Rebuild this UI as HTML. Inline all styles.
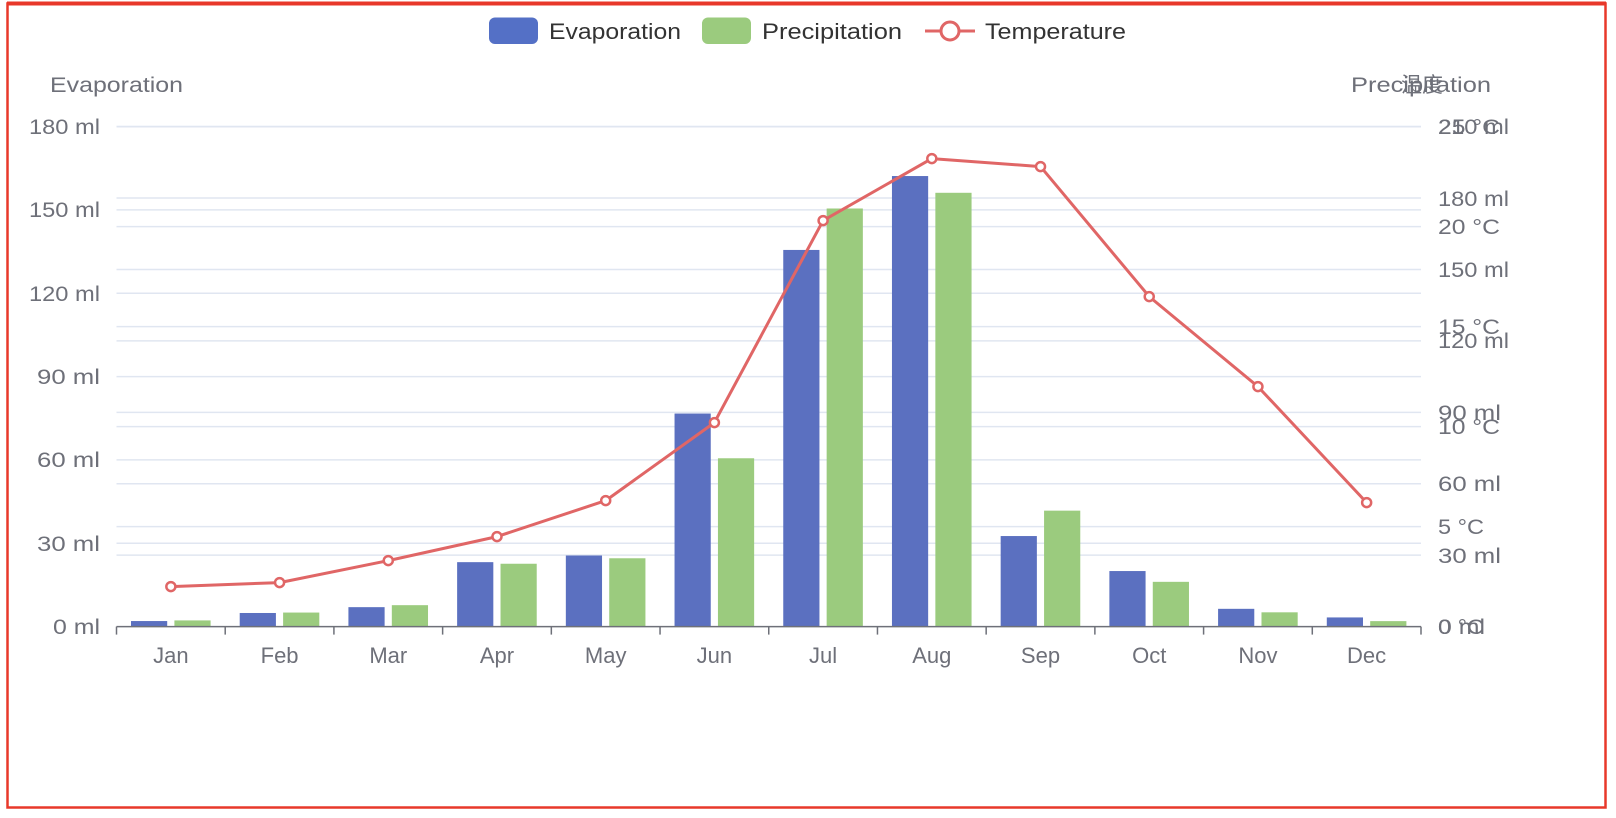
<!DOCTYPE html>
<html><head><meta charset="utf-8"><style>
html,body{margin:0;padding:0;background:#fff;}
svg{display:block;}
text{font-family:"Liberation Sans","Noto Sans CJK SC",sans-serif;}
</style></head><body>
<svg id="c" width="1616" height="818" viewBox="0 0 1616 818" xmlns="http://www.w3.org/2000/svg">
<rect x="0" y="0" width="1616" height="818" fill="#fff"/>
<rect x="7.5" y="3.5" width="1598" height="804" fill="none" stroke="#E8382A" stroke-width="2.5"/>
<line x1="7" y1="3.5" x2="1606" y2="3.5" stroke="#E8382A" stroke-width="4"/>
<g id="grid"></g>
<g id="bars"></g>
<line x1="116.5" y1="626.6" x2="1421" y2="626.6" stroke="#6E7079" stroke-width="1.5"/>
<g id="ticks"></g>
<g id="line"></g>
<!-- legend -->
<rect x="489" y="17.5" width="49" height="26.5" rx="6" fill="#5470C6"/>
<text x="549" y="39" font-size="22" fill="#333" textLength="132" lengthAdjust="spacingAndGlyphs">Evaporation</text>
<rect x="702" y="17.5" width="49" height="26.5" rx="6" fill="#9BCB7E"/>
<text x="762" y="39" font-size="22" fill="#333" textLength="140" lengthAdjust="spacingAndGlyphs">Precipitation</text>
<line x1="925" y1="31" x2="975" y2="31" stroke="#E06666" stroke-width="3"/>
<circle cx="950" cy="31" r="9" fill="#fff" stroke="#E06666" stroke-width="3"/>
<text x="985" y="39" font-size="22" fill="#333" textLength="141" lengthAdjust="spacingAndGlyphs">Temperature</text>
<!-- axis names -->
<g font-size="21" fill="#6E7079">
<text x="50" y="92" textLength="133" lengthAdjust="spacingAndGlyphs">Evaporation</text>
<text x="1491" y="92" text-anchor="end" textLength="140" lengthAdjust="spacingAndGlyphs">Precipitation</text>
<text x="1422" y="92" text-anchor="middle">温度</text>
</g>
<!-- left labels -->
<g font-size="21" fill="#6E7079" text-anchor="end">
<text x="100" y="634" textLength="47" lengthAdjust="spacingAndGlyphs">0 ml</text>
<text x="100" y="551" textLength="63" lengthAdjust="spacingAndGlyphs">30 ml</text>
<text x="100" y="467" textLength="63" lengthAdjust="spacingAndGlyphs">60 ml</text>
<text x="100" y="384" textLength="63" lengthAdjust="spacingAndGlyphs">90 ml</text>
<text x="100" y="301" textLength="71" lengthAdjust="spacingAndGlyphs">120 ml</text>
<text x="100" y="217" textLength="71" lengthAdjust="spacingAndGlyphs">150 ml</text>
<text x="100" y="134" textLength="71" lengthAdjust="spacingAndGlyphs">180 ml</text>
</g>
<!-- right labels -->
<g font-size="21" fill="#6E7079">
<text x="1438" y="634" textLength="47" lengthAdjust="spacingAndGlyphs">0 ml</text>
<text x="1438" y="563" textLength="63" lengthAdjust="spacingAndGlyphs">30 ml</text>
<text x="1438" y="491" textLength="63" lengthAdjust="spacingAndGlyphs">60 ml</text>
<text x="1438" y="420" textLength="63" lengthAdjust="spacingAndGlyphs">90 ml</text>
<text x="1438" y="348" textLength="71" lengthAdjust="spacingAndGlyphs">120 ml</text>
<text x="1438" y="277" textLength="71" lengthAdjust="spacingAndGlyphs">150 ml</text>
<text x="1438" y="206" textLength="71" lengthAdjust="spacingAndGlyphs">180 ml</text>
<text x="1438" y="134" textLength="71" lengthAdjust="spacingAndGlyphs">210 ml</text>
<text x="1438" y="634" textLength="46" lengthAdjust="spacingAndGlyphs">0 °C</text>
<text x="1438" y="534" textLength="46" lengthAdjust="spacingAndGlyphs">5 °C</text>
<text x="1438" y="434" textLength="62" lengthAdjust="spacingAndGlyphs">10 °C</text>
<text x="1438" y="334" textLength="62" lengthAdjust="spacingAndGlyphs">15 °C</text>
<text x="1438" y="234" textLength="62" lengthAdjust="spacingAndGlyphs">20 °C</text>
<text x="1438" y="134" textLength="62" lengthAdjust="spacingAndGlyphs">25 °C</text>
</g>
<!-- x labels -->
<g font-size="22" fill="#6E7079" text-anchor="middle">
<text x="170.9" y="663">Jan</text>
<text x="279.6" y="663">Feb</text>
<text x="388.3" y="663">Mar</text>
<text x="497" y="663">Apr</text>
<text x="605.7" y="663">May</text>
<text x="714.4" y="663">Jun</text>
<text x="823.1" y="663">Jul</text>
<text x="931.8" y="663">Aug</text>
<text x="1040.5" y="663">Sep</text>
<text x="1149.2" y="663">Oct</text>
<text x="1257.9" y="663">Nov</text>
<text x="1366.6" y="663">Dec</text>
</g>
</svg>
<script>
var NS="http://www.w3.org/2000/svg";
function el(p,t,a){var e=document.createElementNS(NS,t);for(var k in a)e.setAttribute(k,a[k]);document.getElementById(p).appendChild(e);return e;}
var x0=116.5,x1=1421,y0=626.6,cw=(x1-x0)/12;
var ys=[];
for(var k=1;k<=6;k++)ys.push(y0-k*500/6);
for(var k=1;k<=7;k++)ys.push(y0-k*500/7);
for(var k=1;k<=5;k++)ys.push(y0-k*100);
ys.forEach(function(y){el("grid","line",{x1:x0,x2:x1,y1:y,y2:y,stroke:"#E0E6F1","stroke-width":1.5});});
for(var i=0;i<=12;i++){var x=x0+i*cw;el("ticks","line",{x1:x,x2:x,y1:y0,y2:y0+8,stroke:"#6E7079","stroke-width":1.5});}
var ev=[2.0,4.9,7.0,23.2,25.6,76.7,135.6,162.2,32.6,20.0,6.4,3.3];
var pr=[2.6,5.9,9.0,26.4,28.7,70.7,175.6,182.2,48.7,18.8,6.0,2.3];
var tp=[2.0,2.2,3.3,4.5,6.3,10.2,20.3,23.4,23.0,16.5,12.0,6.2];
var bw=36.2,m=14.5,g=7.2;
for(var i=0;i<12;i++){
 var cx=x0+i*cw;
 var h1=ev[i]/180*500,h2=pr[i]/210*500;
 el("bars","rect",{x:cx+m,y:y0-h1,width:bw,height:h1,fill:"#5B70C0"});
 el("bars","rect",{x:cx+m+bw+g,y:y0-h2,width:bw,height:h2,fill:"#9BCB7E"});
}
var pts=tp.map(function(t,i){return [x0+(i+0.5)*cw,y0-t*20];});
el("line","polyline",{points:pts.map(function(p){return p.join(",")}).join(" "),fill:"none",stroke:"#E06666","stroke-width":3,"stroke-linejoin":"round"});
pts.forEach(function(p){el("line","circle",{cx:p[0],cy:p[1],r:4.5,fill:"#fff",stroke:"#E06666","stroke-width":2.5});});
</script>
</body></html>
